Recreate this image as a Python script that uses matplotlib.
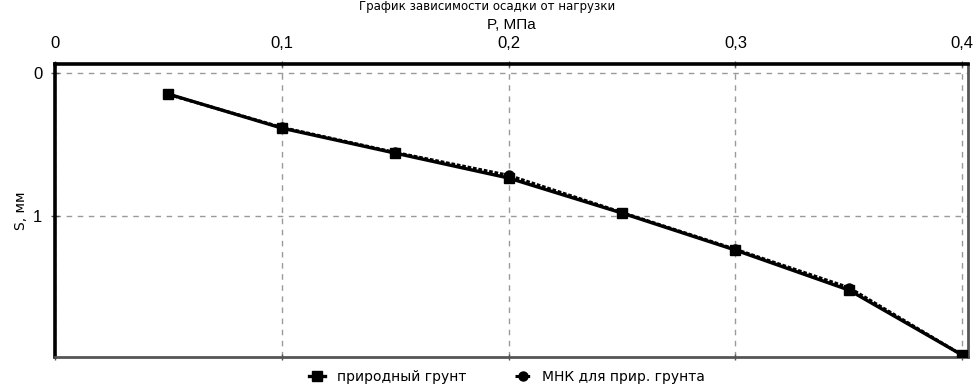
import matplotlib
matplotlib.use("Agg")
import matplotlib.pyplot as plt
from matplotlib.ticker import FixedLocator, FuncFormatter

plt.rcParams['font.family'] = ['Liberation Sans', 'DejaVu Sans']

# Load, MPa
pressure = [0.05, 0.10, 0.15, 0.20, 0.25, 0.30, 0.35, 0.40]
# Measured settlement of natural soil, mm
settlement = [0.147, 0.385, 0.56, 0.734, 0.979, 1.238, 1.517, 1.972]
# Least-squares fit for natural soil, mm
settlement_lsq = [0.15, 0.38, 0.555, 0.715, 0.975, 1.232, 1.50, 1.972]

x_ticks = [0, 0.1, 0.2, 0.3, 0.4]
y_ticks = [0, 1]

fig = plt.figure(figsize=(9.75, 3.89), dpi=100)
ax = fig.add_axes([0.0564, 0.0823, 0.9364, 0.752])

ax.plot(pressure, settlement_lsq, color='black', lw=2.2, ls=(0, (1.2, 0.6)),
        marker='o', ms=6.5, mfc='black', mec='black', label='МНК для прир. грунта', zorder=3)
ax.plot(pressure, settlement, color='black', lw=2.4, marker='s', ms=7.5,
        mfc='black', mec='black', label='природный грунт', zorder=4)

ax.set_xlim(0, 0.4025)
ax.set_ylim(1.985, -0.06)

ax.xaxis.tick_top()
ax.xaxis.set_label_position('top')
ax.xaxis.set_major_locator(FixedLocator(x_ticks))
ax.yaxis.set_major_locator(FixedLocator(y_ticks))
fmt = FuncFormatter(lambda v, p: ('%g' % v).replace('.', ','))
ax.xaxis.set_major_formatter(fmt)
ax.yaxis.set_major_formatter(fmt)
ax.tick_params(axis='x', which='major', top=True, bottom=True, direction='inout',
               length=5, width=1, color='#555555', labelsize=12, pad=7)
ax.tick_params(axis='y', which='major', left=True, direction='inout',
               length=6, width=1, color='#555555', labelsize=12, pad=6)

ax.set_xlabel('P, МПа', fontsize=11, labelpad=5)
ax.set_ylabel('S, мм', fontsize=10, family=['DejaVu Sans'], labelpad=4)

ax.grid(True, color='#9a9a9a', ls=(0, (4, 4)), lw=1)
ax.set_axisbelow(True)

for side in ('top', 'left'):
    ax.spines[side].set_linewidth(2.6)
    ax.spines[side].set_color('black')
for side in ('bottom', 'right'):
    ax.spines[side].set_linewidth(2)
    ax.spines[side].set_color('#555555')

fig.text(0.5, 0.999, 'График зависимости осадки от нагрузки', ha='center', va='top',
         fontsize=8.5, family=['DejaVu Sans'])

handles, labels = ax.get_legend_handles_labels()
leg = fig.legend(handles[::-1], labels[::-1], loc='center', bbox_to_anchor=(0.52, 0.03),
                 ncol=2, frameon=False, fontsize=10, handlelength=1.2, columnspacing=3.5,
                 handletextpad=0.8, prop={'family': ['DejaVu Sans'], 'size': 10})

fig.savefig('out.png', dpi=100)
